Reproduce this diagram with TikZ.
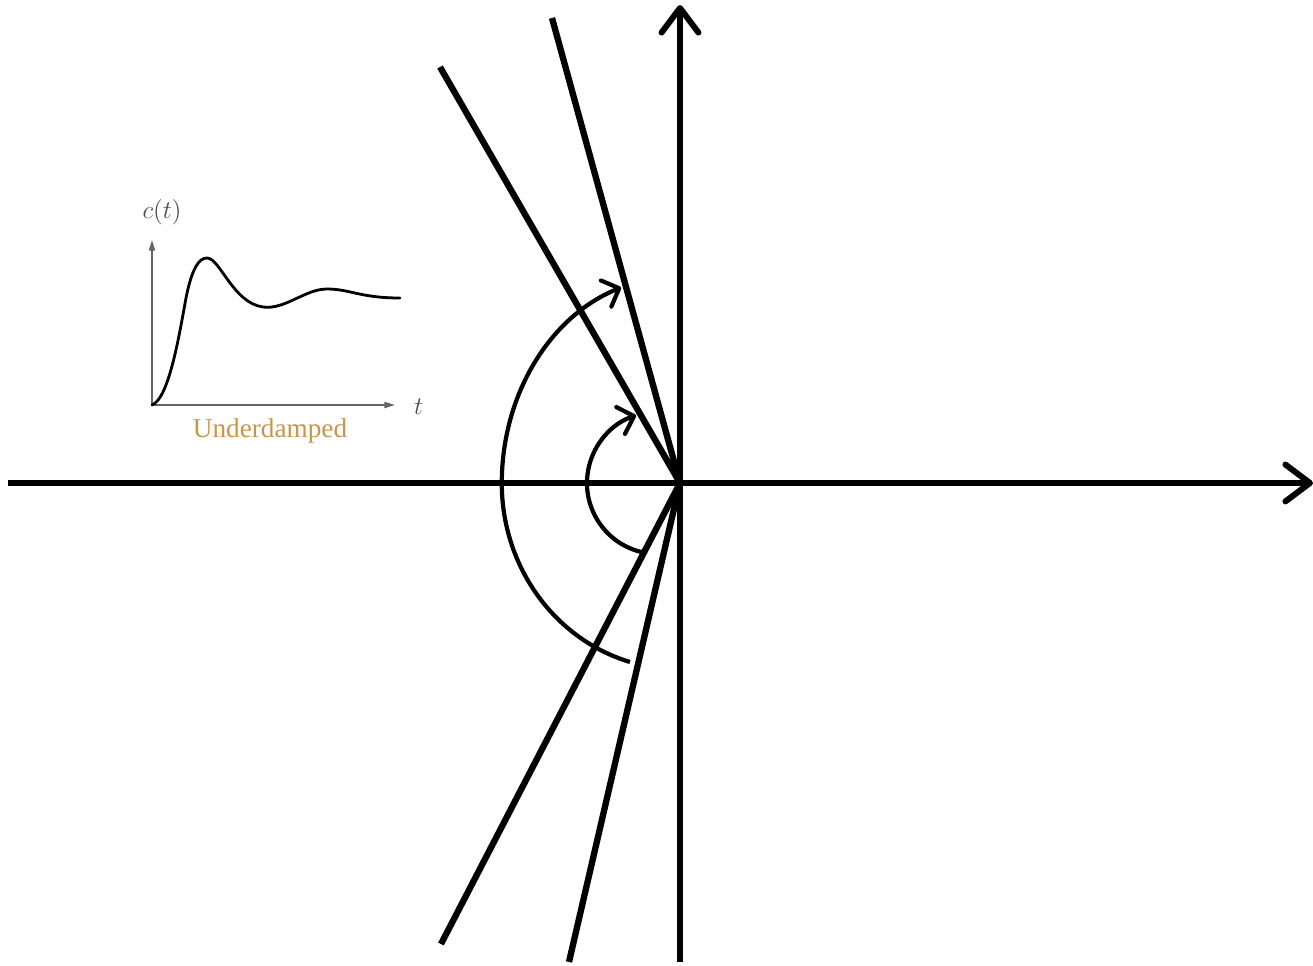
\documentclass[tikz,border=0pt]{standalone}
\usepackage{fontspec}
\setmainfont{Liberation Serif}
\usetikzlibrary{arrows.meta}
\definecolor{gold}{RGB}{196,150,80}
\tikzset{
  axis/.style={line width=3.4pt, -{Straight Barb[length=14pt, width=21pt, line cap=round, line join=round]}},
  ray/.style={line width=3.6pt},
  sweep/.style={line width=2.4pt, -{Straight Barb[length=8pt, width=16pt, line cap=round, line join=round]}},
  small axis/.style={gray!80!black, line width=0.9pt, -{Triangle[length=6pt, width=3.5pt]}}
}
\begin{document}
\begin{tikzpicture}[x=0.02cm, y=0.02cm]
  \useasboundingbox (-680,-482) rectangle (633,483);
  \coordinate (O) at (0,0);
  % Axes
  \coordinate (xl) at (-672,0); \coordinate (xr) at (633,0);
  \coordinate (yb) at (0,-479); \coordinate (yt) at (0,478);
  \draw[axis] (xl) -- (xr);
  \draw[axis] (yb) -- (yt);
  % Rays through the origin
  \coordinate (u1) at (-128,465); \coordinate (u2) at (-240,416);
  \coordinate (l1) at (-111,-479); \coordinate (l2) at (-239,-461);
  \draw[ray] (u1) -- (O) -- (l1);
  \draw[ray] (u2) -- (O) -- (l2);
  % Sweeps
  \coordinate (s1) at (-50,-179);
  \draw[sweep] (s1) arc[start angle=254, end angle=180, x radius=177, y radius=186]
    arc[start angle=180, end angle=109, x radius=177, y radius=207];
  \coordinate (c2) at (-22,0);
  \draw[sweep] ([shift={(257:71)}]c2) arc[start angle=257, end angle=108, radius=71];
  % Inset: step response
  \coordinate (io) at (-528,78);
  \coordinate (iy) at (-528,243); \coordinate (ix) at (-285,78);
  \draw[small axis] (io) -- (iy);
  \draw[small axis] (io) -- (ix);
  \draw[line width=1.6pt, line cap=round] (io)
    .. controls (-512,84) and (-502,140) .. (-494,185)
    .. controls (-488,215) and (-481,225) .. (-473,225)
    .. controls (-460,225) and (-447,180) .. (-417,176)
    .. controls (-395,173) and (-375,194) .. (-353,194)
    .. controls (-330,194) and (-320,185) .. (-280,185);
  \node[font=\fontsize{15}{15}\selectfont, gray!60!black] (ct) at (-518,271) {$c(t)$};
  \node[font=\fontsize{15}{15}\selectfont, gray!60!black, anchor=west] (tl) at (-272,76) {$t$};
  \node[font=\fontsize{15.5}{16}\selectfont, text=gold] (lab) at (-410,52) {Underdamped};
\end{tikzpicture}
\end{document}
